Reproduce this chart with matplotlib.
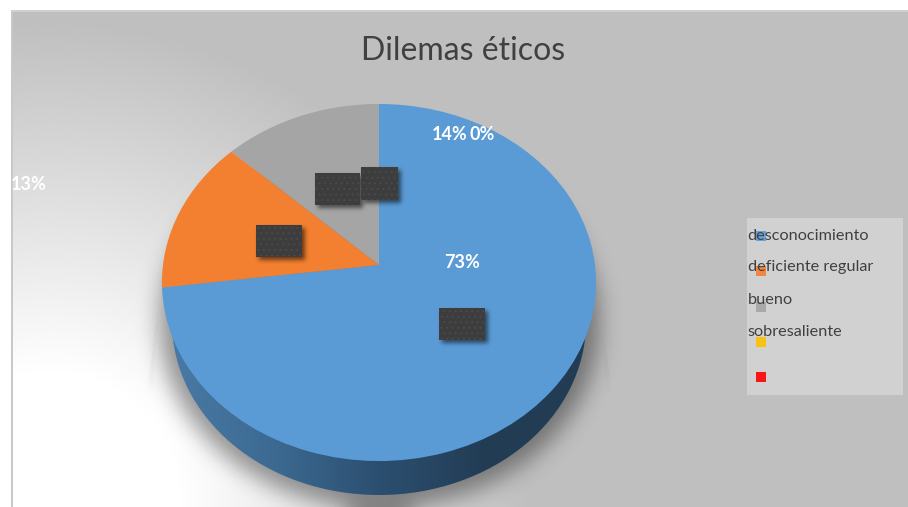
import numpy as np
import matplotlib
matplotlib.use("Agg")
import matplotlib.pyplot as plt
from matplotlib.colors import LinearSegmentedColormap
from matplotlib.patches import Ellipse, Rectangle
from matplotlib.transforms import Transform

categories = ["desconocimiento", "deficiente regular", "bueno", "sobresaliente", ""]
values = [73, 14, 13, 0, 0]
colors = ["#5b9bd5", "#f37f30", "#a5a5a5", "#ffc000", "#ff0000"]
title = "Dilemas éticos"

W, H = 908, 507
FONT = ["Lato", "DejaVu Sans"]
plt.rcParams["hatch.linewidth"] = 0.6


class TiltedDisc(Transform):
    """Projects the unit pie disc onto the page with a slight perspective."""
    input_dims = output_dims = 2
    has_inverse = False
    is_separable = False

    def __init__(self, cx, cy, sx, sy, k):
        super().__init__()
        self.params = (cx, cy, sx, sy, k)

    def transform_non_affine(self, xy):
        cx, cy, sx, sy, k = self.params
        xy = np.asarray(xy, dtype=float)
        w = 1 + k * xy[:, 1]
        return np.column_stack([cx + sx * xy[:, 0] / w, cy - sy * xy[:, 1] / w])


def blur(img, sigma):
    r = int(3 * sigma)
    kernel = np.exp(-0.5 * (np.arange(-r, r + 1) / sigma) ** 2)
    kernel /= kernel.sum()
    pad = np.pad(img.astype(float), r, mode="edge")
    pad = np.apply_along_axis(lambda c: np.convolve(c, kernel, mode="same"), 0, pad)
    pad = np.apply_along_axis(lambda c: np.convolve(c, kernel, mode="same"), 1, pad)
    return pad[r:-r, r:-r]


def draw_alpha(ax, alpha, zorder):
    layer = np.zeros((H, W, 4))
    layer[..., 3] = alpha
    ax.imshow(layer, extent=(0, W, H, 0), aspect="auto", zorder=zorder, interpolation="bilinear")


fig = plt.figure(figsize=(W / 100, H / 100), dpi=100, facecolor="white")
ax = fig.add_axes([0, 0, 1, 1])

wedges, _ = ax.pie(values, colors=colors, startangle=90, counterclock=False, radius=1.0)
ax.set_aspect("auto")
ax.axis("off")

# Page background: grey panel fading to white towards the lower left
yy, xx = np.mgrid[0:H, 0:W]
fade = np.clip((np.hypot(xx - 50, yy - 500) - 130) / 350, 0, 1)
grey = 255 - 64 * fade
panel = np.repeat((grey / 255)[..., None], 3, axis=2)
ax.imshow(panel, extent=(0, W, H, 0), aspect="auto", zorder=0)
ax.add_patch(Rectangle((0, 0), 11, H, fc="white", ec="none", zorder=1))
ax.add_patch(Rectangle((0, 0), W, 10, fc="white", ec="none", zorder=1))
ax.add_patch(Rectangle((11, 10), 2, H - 10, fc="#c8c8c8", ec="none", zorder=1))
ax.add_patch(Rectangle((11, 10), W - 11, 1.5, fc="#cfcfcf", ec="none", zorder=1))

# Drop shadow under the pie: a soft halo below the wall plus a flared funnel at the sides
halo = ((xx - 379) / 220) ** 2 + ((yy - 322) / 186) ** 2 < 1
left_edge = np.interp(yy, [270, 385], [160, 147])
right_edge = np.interp(yy, [275, 375], [596, 610])
funnel = (xx > left_edge) & (xx < right_edge) & (yy > 275) & (yy < 395)
funnel = funnel * 0.18 * np.clip((395 - yy) / 70, 0, 1)
draw_alpha(ax, np.maximum(blur(halo, 11) * 0.4, blur(funnel, 1.5)), 2)

# Side wall of the blue slice, darkening towards the right
wall_cmap = LinearSegmentedColormap.from_list(
    "wall", ["#4a7aa6", "#3c6a92", "#2c4f70", "#223c54", "#223c54"])
wall_img = ax.imshow(np.linspace(0, 1, 256)[None, :], cmap=wall_cmap,
                     extent=(165, 595, 500, 300), aspect="auto", zorder=3)
wall_outline = Ellipse((379, 322), 414, 346, fc="none", ec="none", zorder=3)
ax.add_patch(wall_outline)
wall_img.set_clip_path(wall_outline)

# Pie face
disc = TiltedDisc(379, 265, 216, 176.8, 0.098) + ax.transData
for wedge in wedges:
    wedge.set_transform(disc)
    wedge.set_zorder(4)
    wedge.set_linewidth(0)
    wedge.set_edgecolor("none")

# Dark stickers with soft shadows
boxes = [(315, 173, 45, 32), (361, 167, 37, 33), (256, 225, 46, 32), (439, 308, 46, 32)]
for x, y, w, h in boxes:
    mask = (xx >= x + 3) & (xx < x + w + 3) & (yy >= y + 3) & (yy < y + h + 3)
    draw_alpha(ax, blur(mask, 2.2) * 0.55, 5)
for x, y, w, h in boxes:
    ax.add_patch(Rectangle((x, y), w, h, fc="#3d3d3d", ec="#4c4c4c", hatch="...",
                           lw=0, zorder=6))

# Percentage labels
label_style = dict(color="white", fontweight="bold", fontsize=13, family=FONT,
                   ha="center", va="center", zorder=7)
ax.text(462, 263, f"{values[0]}%", **label_style)
ax.text(450, 135, f"{values[1]}%", **label_style)
ax.text(29, 185, f"{values[2]}%", **label_style)
ax.text(482, 135, f"{values[3]}%", **label_style)

ax.text(463, 51, title, color="#404040", fontsize=23, family=FONT,
        ha="center", va="center", zorder=7)

# Legend panel
ax.add_patch(Rectangle((747, 218), 156, 177, fc="#d1d1d1", ec="none", zorder=5))
text_rows = [236, 267, 300, 332]
swatch_rows = [236, 271, 307, 342, 377]
for name, row in zip(categories, text_rows):
    ax.text(747.5, row, name, color="#404040", fontsize=11.7, family=FONT,
            ha="left", va="center", zorder=7)
for color, row in zip(colors, swatch_rows):
    ax.add_patch(Rectangle((756, row - 5), 10, 10, fc=color, ec="none",
                           alpha=0.9, zorder=6))

ax.set_xlim(0, W)
ax.set_ylim(H, 0)
fig.savefig("out.png", dpi=100)
